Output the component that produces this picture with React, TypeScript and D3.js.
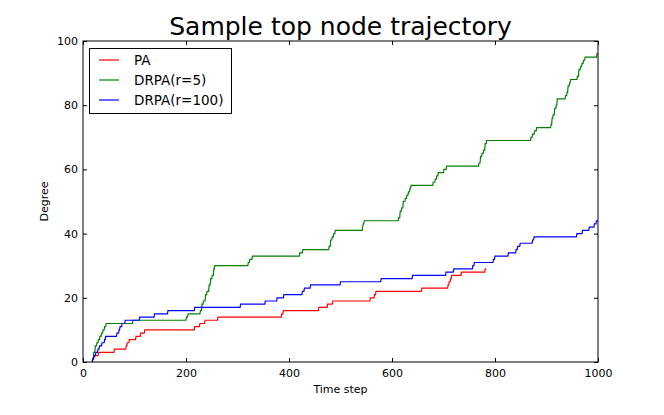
import * as d3 from "d3";
import { useEffect, useRef } from "react";

type Step = [number, number]; // [time step, degree reached at that step]

// change points
const paSteps: Step[] = [
  [18, 0], [19, 1], [22, 2], [30, 3], [61, 4], [84, 5], [86, 6], [90, 7], [103, 8],
  [112, 9], [120, 10], [217, 11], [227, 12], [237, 13], [262, 14], [386, 15], [389, 16],
  [458, 17], [475, 18], [485, 19], [558, 20], [566, 21], [569, 22], [658, 23], [709, 24],
  [711, 25], [714, 26], [716, 27], [735, 28], [781, 29],
];
const drpa5Steps: Step[] = [
  [18, 0], [19, 1], [21, 3], [24, 5], [27, 6], [30, 7], [33, 8], [36, 9], [39, 10],
  [42, 11], [45, 12], [97, 13], [201, 14], [204, 15], [228, 16], [231, 18], [234, 19],
  [238, 21], [241, 22], [245, 24], [248, 26], [251, 27], [254, 29], [256, 30], [321, 31],
  [324, 32], [329, 33], [421, 34], [427, 35], [478, 36], [481, 38], [484, 39], [487, 40],
  [490, 41], [543, 42], [544, 43], [546, 44], [613, 45], [616, 47], [619, 48], [622, 50],
  [626, 51], [629, 52], [632, 53], [635, 54], [637, 55], [680, 56], [684, 57], [687, 58],
  [690, 59], [701, 60], [706, 61], [769, 62], [772, 64], [775, 65], [778, 66], [781, 68],
  [784, 69], [870, 70], [873, 71], [877, 72], [881, 73], [909, 74], [911, 76], [913, 77],
  [916, 79], [919, 80], [921, 82], [937, 83], [940, 84], [942, 86], [945, 87], [947, 88],
  [960, 89], [963, 91], [966, 92], [969, 93], [972, 94], [975, 95], [998, 96],
];
const drpa100Steps: Step[] = [
  [18, 0], [19, 1], [21, 2], [25, 3], [29, 4], [32, 5], [37, 6], [42, 7], [44, 8],
  [66, 9], [70, 10], [72, 11], [76, 12], [82, 13], [110, 14], [139, 15], [165, 16],
  [217, 17], [306, 18], [354, 19], [377, 20], [390, 21], [426, 22], [430, 23], [442, 24],
  [500, 25], [579, 26], [640, 27], [705, 28], [720, 29], [757, 30], [760, 31], [797, 32],
  [800, 33], [826, 34], [841, 35], [844, 36], [849, 37], [873, 38], [876, 39], [959, 40],
  [970, 41], [983, 42], [993, 43], [997, 44],
];
const seriesNames = ["PA", "DRPA(r=5)", "DRPA(r=100)"];
const seriesEnds = [783, 1000, 1000];
const seriesColors = ["#ff0000", "#008000", "#0000ff"];
const xTicks = [0, 200, 400, 600, 800, 1000];
const yTicks = [0, 20, 40, 60, 80, 100];

const FONT = "'DejaVu Sans', sans-serif";

// turn change points into a step path with a 1-step ramp on each rise
function toPoints(steps: Step[], end: number): Step[] {
  const pts: Step[] = [];
  steps.forEach(([t, v], i) => {
    pts.push([t, v]);
    const next = i + 1 < steps.length ? steps[i + 1][0] - 1 : end;
    pts.push([next, v]);
  });
  return pts;
}

const App = () => {
  const ref = useRef<SVGSVGElement | null>(null);

  useEffect(() => {
    if (!ref.current) return;
    const width = 664;
    const height = 415;
    const margin = { top: 41, right: 66, bottom: 53, left: 83 };
    const innerWidth = width - margin.left - margin.right;
    const innerHeight = height - margin.top - margin.bottom;

    const svg = d3.select(ref.current);
    svg.selectAll("*").remove();
    svg.attr("width", width).attr("height", height);
    svg.append("rect").attr("width", width).attr("height", height).attr("fill", "#fff");

    const x = d3.scaleLinear().domain([0, 1000]).range([0, innerWidth]);
    const y = d3.scaleLinear().domain([0, 100]).range([innerHeight, 0]);

    const g = svg.append("g").attr("transform", `translate(${margin.left},${margin.top})`);

    const lineGen = d3
      .line<Step>()
      .x((d) => x(d[0]))
      .y((d) => y(d[1]));

    const all = [paSteps, drpa5Steps, drpa100Steps];
    all.forEach((steps, i) => {
      g.append("path")
        .datum(toPoints(steps, seriesEnds[i]))
        .attr("fill", "none")
        .attr("stroke", seriesColors[i])
        .attr("stroke-width", 1.2)
        .attr("d", lineGen);
    });

    const styleAxis = (sel: d3.Selection<SVGGElement, unknown, null, undefined>) => {
      sel.select(".domain").remove();
      sel.selectAll("line").attr("stroke", "#000");
      sel.selectAll("text").attr("font-family", FONT).attr("font-size", 11).attr("fill", "#000");
    };

    const fmt = d3.format("d");
    g.append("g")
      .attr("transform", `translate(0,${innerHeight})`)
      .call(d3.axisBottom(x).tickValues(xTicks).tickFormat(fmt).tickSizeInner(-4).tickSizeOuter(0).tickPadding(7))
      .call(styleAxis);
    g.append("g")
      .call(d3.axisLeft(y).tickValues(yTicks).tickFormat(fmt).tickSizeInner(-4).tickSizeOuter(0).tickPadding(5))
      .call(styleAxis);
    g.append("g")
      .call(d3.axisTop(x).tickValues(xTicks).tickSizeInner(-4).tickSizeOuter(0).tickFormat(() => ""))
      .call(styleAxis);
    g.append("g")
      .attr("transform", `translate(${innerWidth},0)`)
      .call(d3.axisRight(y).tickValues(yTicks).tickSizeInner(-4).tickSizeOuter(0).tickFormat(() => ""))
      .call(styleAxis);

    g.append("rect")
      .attr("width", innerWidth)
      .attr("height", innerHeight)
      .attr("fill", "none")
      .attr("stroke", "#000")
      .attr("stroke-width", 1);

    // title and axis labels
    svg.append("text")
      .attr("x", margin.left + innerWidth / 2)
      .attr("y", 35)
      .attr("text-anchor", "middle")
      .attr("font-family", FONT)
      .attr("font-size", 25)
      .text("Sample top node trajectory");
    svg.append("text")
      .attr("x", margin.left + innerWidth / 2)
      .attr("y", 393)
      .attr("text-anchor", "middle")
      .attr("font-family", FONT)
      .attr("font-size", 11)
      .text("Time step");
    svg.append("text")
      .attr("transform", `translate(48,${margin.top + innerHeight / 2}) rotate(-90)`)
      .attr("text-anchor", "middle")
      .attr("font-family", FONT)
      .attr("font-size", 11)
      .text("Degree");

    // legend
    const legend = svg.append("g").attr("transform", "translate(89.5,48.5)");
    legend.append("rect")
      .attr("width", 142)
      .attr("height", 65)
      .attr("fill", "#fff")
      .attr("stroke", "#000")
      .attr("stroke-width", 1);
    seriesNames.forEach((name, i) => {
      const row = legend.append("g").attr("transform", `translate(0,${11.5 + i * 20})`);
      row.append("line")
        .attr("x1", 9.5)
        .attr("x2", 29.5)
        .attr("stroke", seriesColors[i])
        .attr("stroke-width", 1.2);
      row.append("text")
        .attr("x", 44.5)
        .attr("dy", "0.35em")
        .attr("font-family", FONT)
        .attr("font-size", 13.5)
        .text(name);
    });
  }, []);

  return <svg ref={ref} style={{ position: "absolute", left: 0, top: 0 }}></svg>;
};

export default App;
